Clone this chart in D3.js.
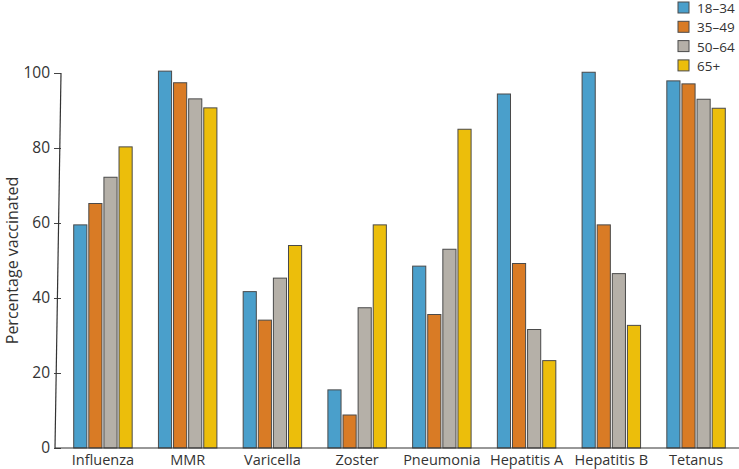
<!DOCTYPE html>
<html>
<head>
<meta charset="utf-8">
<script src="https://cdn.jsdelivr.net/npm/d3@7"></script>
<style>
  body { margin: 0; background: #fff; }
  .content { width: 739px; height: 469px; }
  text { font-family: "Open Sans", sans-serif; fill: #333; }
</style>
</head>
<body>
<div class="content"></div>
<script>
var width = 739
var height = 469

var vaccines = ['Influenza', 'MMR', 'Varicella', 'Zoster', 'Pneumonia', 'Hepatitis A', 'Hepatitis B', 'Tetanus']
var ageGroups = ['18–34', '35–49', '50–64', '65+']
var colors = ['#4a9fcb', '#d97b25', '#b5b0a8', '#ecbe0b']

var age18to34 = [59.5, 100.5, 41.7, 15.5, 48.5, 94.4, 100.2, 97.9]
var age35to49 = [65.2, 97.4, 34.1, 8.8, 35.6, 49.2, 59.5, 97.1]
var age50to64 = [72.2, 93.1, 45.3, 37.4, 53.0, 31.6, 46.5, 93.0]
var age65plus = [80.3, 90.7, 54.0, 59.5, 85.0, 23.3, 32.7, 90.6]
var yTicks = [0, 20, 40, 60, 80, 100]

var series = [age18to34, age35to49, age50to64, age65plus]

var margin = { left: 61, right: 1, top: 73, bottom: 21 }

var x = d3.scaleBand()
    .domain(vaccines)
    .range([margin.left, width - margin.right])
    .paddingInner(0.31)
    .paddingOuter(0.15)

var x1 = d3.scaleBand()
    .domain(ageGroups)
    .range([0, x.bandwidth()])
    .paddingInner(0.13)

var y = d3.scaleLinear()
    .domain([0, 100])
    .range([height - margin.bottom, margin.top])

var svg = d3.select('.content').append('svg')
    .attr('width', width)
    .attr('height', height)

// bars
var groups = svg.append('g')
    .selectAll('g')
    .data(vaccines)
    .enter().append('g')
    .attr('transform', function(d) { return 'translate(' + x(d) + ',0)' })

groups.selectAll('rect')
    .data(function(d, i) {
        return ageGroups.map(function(a, j) { return { age: a, value: series[j][i], k: j } })
    })
    .enter().append('rect')
    .attr('x', function(d) { return x1(d.age) })
    .attr('width', x1.bandwidth())
    .attr('y', function(d) { return y(d.value) })
    .attr('height', function(d) { return y(0) - y(d.value) })
    .style('fill', function(d) { return colors[d.k] })
    .style('stroke', '#4a4a4a')
    .style('stroke-width', 1)

// y axis
var yAxis = svg.append('g')
    .attr('transform', 'translate(' + margin.left + ',0)')
    .call(d3.axisLeft(y).tickValues(yTicks).tickSize(7).tickPadding(4))
yAxis.select('.domain').remove()
yAxis.selectAll('line').style('stroke', '#444')
yAxis.selectAll('text')
    .style('font-size', '15.5px')
    .style('font-family', '"Open Sans", sans-serif')
    .style('fill', '#333')

// slightly leaning axis line as in the original scan
svg.append('line')
    .attr('x1', margin.left).attr('y1', y(100))
    .attr('x2', margin.left - 6).attr('y2', y(0))
    .style('stroke', '#333').style('stroke-width', 1.2)

// x axis baseline
svg.append('line')
    .attr('x1', margin.left - 6).attr('x2', width)
    .attr('y1', y(0)).attr('y2', y(0))
    .style('stroke', '#333').style('stroke-width', 1.2)

svg.append('g')
    .selectAll('text')
    .data(vaccines)
    .enter().append('text')
    .attr('x', function(d) { return x(d) + x.bandwidth() / 2 })
    .attr('y', y(0) + 17)
    .attr('text-anchor', 'middle')
    .style('font-size', '14.5px')
    .text(function(d) { return d })

svg.append('text')
    .attr('transform', 'translate(17.5,' + y(50) + ') rotate(-90)')
    .attr('text-anchor', 'middle')
    .style('font-size', '16px')
    .text('Percentage vaccinated')

// legend
var legend = svg.append('g')
    .attr('transform', 'translate(678,2)')
    .selectAll('g')
    .data(ageGroups)
    .enter().append('g')
    .attr('transform', function(d, i) { return 'translate(0,' + i * 19.3 + ')' })

legend.append('rect')
    .attr('width', 11)
    .attr('height', 11)
    .style('fill', function(d, i) { return colors[i] })
    .style('stroke', '#4a4a4a')

legend.append('text')
    .attr('x', 19)
    .attr('y', 11)
    .style('font-size', '13.5px')
    .text(function(d) { return d })
</script>
</body>
</html>
